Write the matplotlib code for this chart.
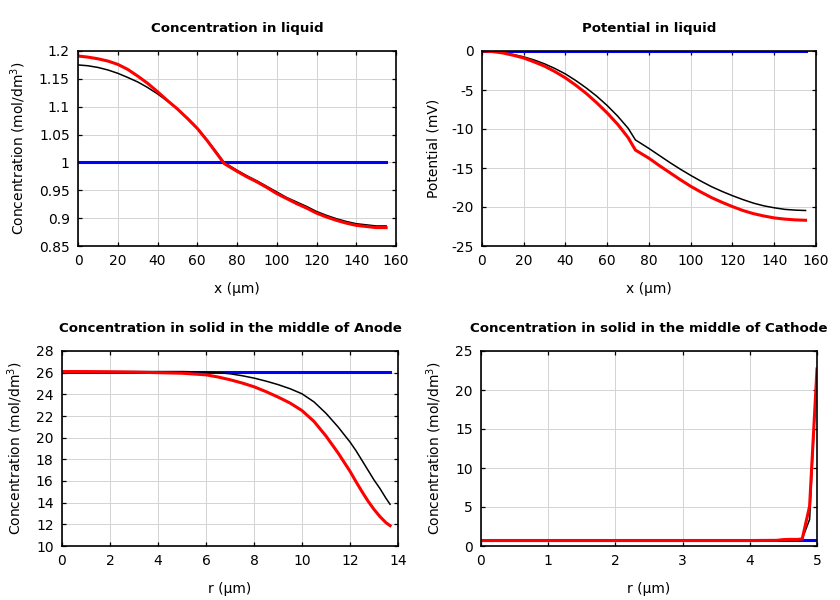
import numpy as np
import matplotlib.pyplot as plt
from matplotlib.ticker import FormatStrFormatter

plt.rcParams['font.family'] = ['DejaVu Sans']
plt.rcParams['axes.unicode_minus'] = False

# liquid phase, positions across the cell (um)
x_liq = [0, 5, 10, 15, 20, 25, 30, 35, 40, 45, 50, 55, 60, 65, 70, 73.5,
         80, 85, 90, 95, 100, 105, 110, 115, 120, 125, 130, 135, 140, 145, 150, 155]

c_liq_black = [1.175, 1.1735, 1.1705, 1.166, 1.160, 1.1525, 1.1445, 1.1345, 1.123, 1.110,
               1.096, 1.080, 1.062, 1.040, 1.017, 1.0,
               0.986, 0.976, 0.967, 0.957, 0.947, 0.937, 0.929, 0.921, 0.912, 0.905,
               0.899, 0.894, 0.890, 0.888, 0.886, 0.886]
c_liq_red = [1.191, 1.189, 1.186, 1.182, 1.176, 1.167, 1.155, 1.142, 1.127, 1.111,
             1.096, 1.079, 1.061, 1.039, 1.015, 0.998,
             0.984, 0.974, 0.965, 0.955, 0.944, 0.935, 0.926, 0.918, 0.909, 0.902,
             0.896, 0.891, 0.887, 0.885, 0.883, 0.883]
c_liq_blue = [1.0] * len(x_liq)

p_liq_black = [0, -0.05, -0.2, -0.45, -0.75, -1.15, -1.65, -2.25, -2.95, -3.8,
               -4.75, -5.8, -7.0, -8.35, -9.9, -11.4,
               -12.5, -13.4, -14.3, -15.15, -15.95, -16.7, -17.4, -18.0, -18.55, -19.05,
               -19.5, -19.85, -20.1, -20.3, -20.4, -20.45]
p_liq_red = [0, -0.07, -0.25, -0.55, -0.9, -1.4, -1.95, -2.65, -3.45, -4.4,
             -5.45, -6.65, -7.95, -9.4, -11.1, -12.7,
             -13.75, -14.7, -15.6, -16.5, -17.35, -18.1, -18.8, -19.4, -19.95, -20.45,
             -20.85, -21.15, -21.4, -21.55, -21.65, -21.7]
p_liq_blue = [0.0] * len(x_liq)

# solid particle, anode (radius in um)
r_an = [0, 1, 2, 3, 4, 5, 6, 6.5, 7, 7.5, 8, 8.5, 9, 9.5, 10, 10.5, 11, 11.5, 12,
        12.25, 12.5, 12.75, 13, 13.25, 13.5, 13.67]
c_an_black = [26.1, 26.1, 26.1, 26.1, 26.1, 26.1, 26.05, 26.0, 25.9, 25.72, 25.5, 25.22,
              24.9, 24.52, 24.05, 23.3, 22.25, 21.0, 19.6,
              18.8, 17.9, 17.0, 16.1, 15.3, 14.4, 13.85]
c_an_red = [26.1, 26.1, 26.08, 26.05, 26.0, 25.95, 25.8, 25.6, 25.35, 25.05, 24.7, 24.25,
            23.75, 23.2, 22.5, 21.5, 20.15, 18.6, 16.9,
            15.94, 15.02, 14.15, 13.38, 12.71, 12.15, 11.88]
c_an_blue = [26.1] * len(r_an)

# solid particle, cathode
r_ca = [0, 1, 2, 3, 4, 4.4, 4.5, 4.6, 4.7, 4.78, 4.89, 5.0]
c_ca_black = [0.7, 0.7, 0.7, 0.7, 0.7, 0.7, 0.72, 0.74, 0.74, 0.9, 3.4, 22.7]
c_ca_red = [0.7, 0.7, 0.7, 0.7, 0.7, 0.72, 0.82, 0.85, 0.84, 0.9, 5.1, 22.7]
c_ca_blue = [0.72] * len(r_ca)

conc_label = 'Concentration (mol/dm$^3$)'

fig = plt.figure(figsize=(8.4, 6), dpi=100)

panels = [
    ([0.0929, 0.59, 0.3786, 0.325], 'Concentration in liquid', x_liq,
     c_liq_blue, c_liq_black, c_liq_red, (0, 160), (0.85, 1.2),
     np.arange(0, 161, 20), np.arange(0.85, 1.2001, 0.05), 'x (µm)', conc_label),
    ([0.5738, 0.59, 0.3976, 0.325], 'Potential in liquid', x_liq,
     p_liq_blue, p_liq_black, p_liq_red, (0, 160), (-25, 0),
     np.arange(0, 161, 20), np.arange(-25, 1, 5), 'x (µm)', 'Potential (mV)'),
    ([0.0738, 0.09, 0.4, 0.325], 'Concentration in solid in the middle of Anode', r_an,
     c_an_blue, c_an_black, c_an_red, (0, 14), (10, 28),
     np.arange(0, 15, 2), np.arange(10, 29, 2), 'r (µm)', conc_label),
    ([0.5726, 0.09, 0.4, 0.325], 'Concentration in solid in the middle of Cathode', r_ca,
     c_ca_blue, c_ca_black, c_ca_red, (0, 5), (0, 25),
     np.arange(0, 6, 1), np.arange(0, 26, 5), 'r (µm)', conc_label),
]

for rect, title, xs, yb, yk, yr, xlim, ylim, xt, yt, xl, yl in panels:
    ax = fig.add_axes(rect)
    ax.plot(xs, yb, color='#0000ff', lw=2.2)
    ax.plot(xs, yk, color='black', lw=1.1)
    ax.plot(xs, yr, color='#ff0000', lw=2.2)
    ax.set_xlim(*xlim)
    ax.set_ylim(*ylim)
    ax.set_xticks(xt)
    ax.set_yticks(yt)
    ax.yaxis.set_major_formatter(FormatStrFormatter('%g'))
    ax.xaxis.set_major_formatter(FormatStrFormatter('%g'))
    ax.grid(True, color='#d3d3d3', lw=0.7)
    ax.set_axisbelow(True)
    ax.tick_params(direction='in', length=3, width=0.9, top=True, right=True,
                   labelsize=10, pad=6)
    for s in ax.spines.values():
        s.set_linewidth(1.2)
    ax.set_title(title, fontsize=9.6, fontweight='bold', pad=14)
    ax.set_xlabel(xl, fontsize=10, labelpad=10)
    ax.set_ylabel(yl, fontsize=10, labelpad=8)

fig.savefig('out.png', dpi=100)
